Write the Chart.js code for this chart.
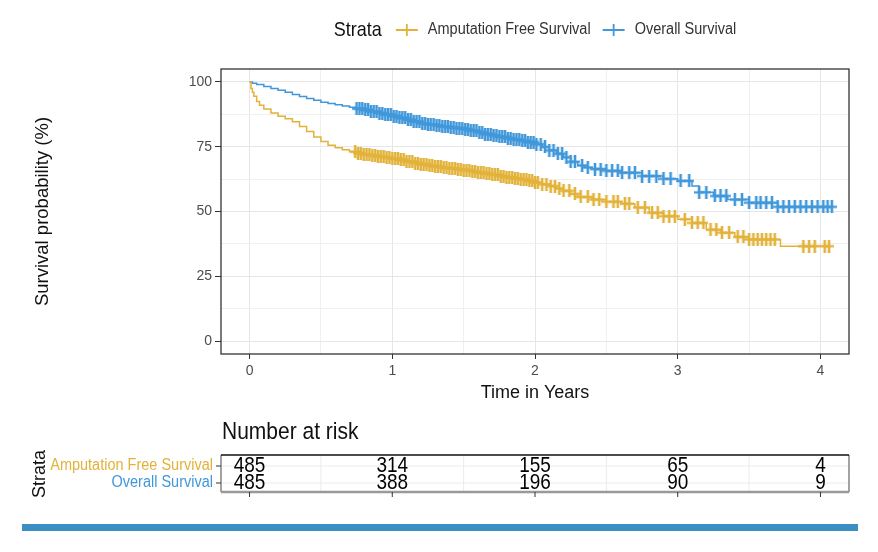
<!DOCTYPE html>
<html>
<head>
<meta charset="utf-8">
<script src="https://cdn.jsdelivr.net/npm/chart.js@4.4.1/dist/chart.umd.min.js"></script>
<style>
  body { margin: 0; background: #fff; }
  canvas { display: block; }
</style>
</head>
<body>
<canvas id="km" width="878" height="552"></canvas>
<script>
// Kaplan-Meier curves (time in years, survival in %)
const afsTime = [0, 0.01, 0.02, 0.03, 0.05, 0.07, 0.1, 0.15, 0.2, 0.25, 0.3, 0.35, 0.4, 0.45, 0.5, 0.55, 0.6, 0.65, 0.7, 0.75, 0.8, 0.85, 0.9, 0.95, 1.0, 1.05, 1.1, 1.15, 1.2, 1.25, 1.3, 1.35, 1.4, 1.45, 1.5, 1.55, 1.6, 1.65, 1.7, 1.75, 1.8, 1.85, 1.9, 1.95, 2.0, 2.05, 2.1, 2.15, 2.2, 2.25, 2.3, 2.4, 2.5, 2.6, 2.7, 2.8, 2.9, 3.0, 3.1, 3.2, 3.3, 3.4, 3.5, 3.72, 4.07];
const afsSurv = [100, 97.5, 96.0, 94.5, 92.5, 91.0, 89.6, 88.0, 86.8, 85.8, 84.6, 82.8, 80.9, 78.8, 77.0, 75.6, 74.6, 73.8, 73.1, 72.5, 72.0, 71.6, 71.2, 70.8, 70.4, 69.9, 69.3, 68.7, 68.2, 67.7, 67.3, 66.9, 66.6, 66.3, 66.0, 65.5, 65.0, 64.6, 64.2, 63.7, 63.2, 62.8, 62.4, 61.8, 61.2, 60.5, 59.8, 58.9, 58.0, 56.8, 55.6, 54.6, 53.8, 53.0, 51.5, 49.5, 48.2, 47.0, 45.6, 43.0, 41.8, 40.2, 39.2, 36.6, 36.6];
const osTime = [0, 0.02, 0.05, 0.1, 0.15, 0.2, 0.25, 0.3, 0.35, 0.4, 0.45, 0.5, 0.55, 0.6, 0.65, 0.7, 0.75, 0.8, 0.85, 0.9, 0.95, 1.0, 1.05, 1.1, 1.15, 1.2, 1.25, 1.3, 1.35, 1.4, 1.45, 1.5, 1.55, 1.6, 1.65, 1.7, 1.75, 1.8, 1.85, 1.9, 1.95, 2.0, 2.05, 2.1, 2.15, 2.2, 2.25, 2.3, 2.35, 2.4, 2.5, 2.6, 2.75, 2.9, 3.0, 3.1, 3.15, 3.25, 3.35, 3.5, 3.7, 4.08];
const osSurv = [100, 99.5, 99.0, 98.2, 97.5, 96.8, 96.0, 95.2, 94.4, 93.6, 92.9, 92.2, 91.7, 91.2, 90.7, 90.2, 89.7, 89.2, 88.6, 88.0, 87.4, 86.8, 86.1, 85.4, 84.7, 84.0, 83.6, 83.2, 82.8, 82.4, 82.2, 81.8, 81.2, 80.6, 79.9, 79.3, 78.8, 78.3, 77.8, 77.3, 76.8, 76.0, 74.9, 73.6, 72.3, 70.9, 69.2, 67.8, 67.0, 66.4, 65.7, 65.0, 63.7, 62.6, 61.8, 59.8, 57.4, 56.0, 54.6, 53.4, 51.8, 51.8];

// censoring times (the "+" marks)
const afsCensor = [0.74, 0.76, 0.78, 0.8, 0.82, 0.84, 0.86, 0.88, 0.9, 0.92, 0.94, 0.96, 0.98, 1.0, 1.02, 1.04, 1.06, 1.08, 1.1, 1.12, 1.14, 1.16, 1.18, 1.2, 1.22, 1.24, 1.26, 1.28, 1.3, 1.32, 1.34, 1.36, 1.38, 1.4, 1.42, 1.44, 1.46, 1.48, 1.5, 1.52, 1.54, 1.56, 1.58, 1.6, 1.62, 1.64, 1.66, 1.68, 1.7, 1.72, 1.74, 1.76, 1.78, 1.8, 1.82, 1.84, 1.86, 1.88, 1.9, 1.92, 1.94, 1.96, 1.98, 2.0, 2.02, 2.05, 2.08, 2.11, 2.14, 2.17, 2.2, 2.24, 2.28, 2.32, 2.37, 2.41, 2.45, 2.5, 2.55, 2.58, 2.63, 2.66, 2.72, 2.77, 2.82, 2.86, 2.9, 2.94, 2.98, 3.05, 3.1, 3.14, 3.18, 3.23, 3.27, 3.31, 3.36, 3.42, 3.46, 3.5, 3.53, 3.56, 3.59, 3.62, 3.65, 3.68, 3.88, 3.92, 3.96, 4.03, 4.06];
const osCensor = [0.75, 0.77, 0.79, 0.81, 0.83, 0.85, 0.87, 0.89, 0.91, 0.93, 0.95, 0.97, 0.99, 1.01, 1.03, 1.05, 1.07, 1.09, 1.11, 1.13, 1.15, 1.17, 1.19, 1.21, 1.23, 1.25, 1.27, 1.29, 1.31, 1.33, 1.35, 1.37, 1.39, 1.41, 1.43, 1.45, 1.47, 1.49, 1.51, 1.53, 1.55, 1.57, 1.59, 1.61, 1.63, 1.65, 1.67, 1.69, 1.71, 1.73, 1.75, 1.77, 1.79, 1.81, 1.83, 1.85, 1.87, 1.89, 1.91, 1.93, 1.95, 1.97, 1.99, 2.01, 2.04, 2.07, 2.1, 2.13, 2.16, 2.19, 2.22, 2.25, 2.28, 2.33, 2.37, 2.42, 2.46, 2.5, 2.54, 2.58, 2.61, 2.66, 2.7, 2.75, 2.8, 2.85, 2.9, 2.95, 3.02, 3.08, 3.15, 3.2, 3.26, 3.3, 3.34, 3.4, 3.45, 3.5, 3.55, 3.58, 3.62, 3.66, 3.7, 3.74, 3.78, 3.82, 3.86, 3.9, 3.94, 3.98, 4.02, 4.05, 4.08];

// number at risk table
const strataLabels = ['Amputation Free Survival', 'Overall Survival'];
const riskTimes = [0, 1, 2, 3, 4];
const riskAfs = [485, 314, 155, 65, 4];
const riskOs = [485, 388, 196, 90, 9];

const GOLD = '#e2b23a';
const BLUE = '#4097da';
const FONT = "'Liberation Sans', Arial, sans-serif";

// survival value at time t
function survAt(times, surv, t) {
    let s = surv[0];
    for (let i = 0; i < times.length; i++) {
        if (times[i] <= t) s = surv[i];
    }
    return s;
}

// "+" used for censor marks
function plusMark(color) {
    const c = document.createElement('canvas');
    c.width = 10; c.height = 13;
    const g = c.getContext('2d');
    g.strokeStyle = color;
    g.lineWidth = 2.6;
    g.beginPath();
    g.moveTo(5, 0); g.lineTo(5, 13);
    g.stroke();
    g.lineWidth = 2.2;
    g.beginPath();
    g.moveTo(0, 6.5); g.lineTo(10, 6.5);
    g.stroke();
    return c;
}

// text slightly stretched vertically, like the reference
function tallText(ctx, s, x, y, stretch) {
    ctx.save();
    ctx.translate(x, y);
    ctx.scale(1, stretch);
    ctx.fillText(s, 0, 0);
    ctx.restore();
}

const afsLine = afsTime.map((t, i) => ({ x: t, y: afsSurv[i] }));
const osLine = osTime.map((t, i) => ({ x: t, y: osSurv[i] }));
const afsMarks = afsCensor.map(t => ({ x: t, y: survAt(afsTime, afsSurv, t) }));
const osMarks = osCensor.map(t => ({ x: t, y: survAt(osTime, osSurv, t) }));

const extras = {
    id: 'extras',
    afterDraw(chart) {
        const { ctx, chartArea: a } = chart;
        const x = chart.scales.x;
        ctx.save();

        // panel border
        ctx.strokeStyle = '#333';
        ctx.lineWidth = 1.3;
        ctx.strokeRect(a.left, a.top, a.right - a.left, a.bottom - a.top);

        // legend across the top
        const colors = [GOLD, BLUE];
        ctx.textBaseline = 'middle';
        ctx.font = '18px ' + FONT;
        const titleW = ctx.measureText('Strata').width;
        ctx.font = '14.5px ' + FONT;
        const labW = strataLabels.map(s => ctx.measureText(s).width);
        const total = titleW + 14 + (22 + 10) * 2 + labW[0] + 12 + labW[1];
        let lx = (a.left + a.right) / 2 - total / 2;
        const ly = 30;
        ctx.fillStyle = '#111';
        ctx.font = '18px ' + FONT;
        ctx.textAlign = 'left';
        tallText(ctx, 'Strata', lx, ly, 1.12);
        lx += titleW + 14;
        ctx.font = '14.5px ' + FONT;
        strataLabels.forEach((s, i) => {
            ctx.strokeStyle = colors[i];
            ctx.lineWidth = 1.8;
            ctx.beginPath();
            ctx.moveTo(lx, ly); ctx.lineTo(lx + 22, ly);
            ctx.moveTo(lx + 11, ly - 6); ctx.lineTo(lx + 11, ly + 6);
            ctx.stroke();
            lx += 22 + 10;
            ctx.fillStyle = '#333';
            tallText(ctx, s, lx, ly, 1.12);
            lx += labW[i] + 12;
        });

        // number at risk table
        ctx.fillStyle = '#111';
        ctx.font = '21px ' + FONT;
        tallText(ctx, 'Number at risk', a.left + 1, 432, 1.15);

        const top = 455, bot = 492;
        const rows = [466, 483];
        ctx.strokeStyle = '#ebebeb';
        ctx.lineWidth = 1;
        [0.5, 1.5, 2.5, 3.5].forEach(v => {
            const px = x.getPixelForValue(v);
            ctx.beginPath(); ctx.moveTo(px, top); ctx.lineTo(px, bot); ctx.stroke();
        });
        rows.forEach(ry => {
            ctx.beginPath(); ctx.moveTo(a.left, ry); ctx.lineTo(a.right, ry); ctx.stroke();
        });
        ctx.strokeStyle = '#666';
        ctx.lineWidth = 1.2;
        ctx.beginPath();
        ctx.moveTo(a.left, top); ctx.lineTo(a.left, bot);
        ctx.moveTo(a.right, top); ctx.lineTo(a.right, bot);
        ctx.stroke();
        ctx.strokeStyle = '#111';
        ctx.lineWidth = 1.6;
        ctx.beginPath(); ctx.moveTo(a.left, top); ctx.lineTo(a.right, top); ctx.stroke();
        ctx.strokeStyle = '#999';
        ctx.lineWidth = 2.5;
        ctx.beginPath(); ctx.moveTo(a.left, bot); ctx.lineTo(a.right, bot); ctx.stroke();

        ctx.strokeStyle = '#333';
        ctx.lineWidth = 1;
        riskTimes.forEach(t => {
            const px = x.getPixelForValue(t);
            ctx.beginPath(); ctx.moveTo(px, bot); ctx.lineTo(px, bot + 5); ctx.stroke();
        });
        rows.forEach(ry => {
            ctx.beginPath(); ctx.moveTo(a.left - 5, ry); ctx.lineTo(a.left, ry); ctx.stroke();
        });

        ctx.font = '19px ' + FONT;
        ctx.textAlign = 'center';
        ctx.fillStyle = '#000';
        [riskAfs, riskOs].forEach((vals, r) => {
            vals.forEach((v, i) => tallText(ctx, String(v), x.getPixelForValue(riskTimes[i]), rows[r], 1.15));
        });

        ctx.font = '14.5px ' + FONT;
        ctx.textAlign = 'right';
        strataLabels.forEach((s, i) => {
            ctx.fillStyle = colors[i];
            tallText(ctx, s, a.left - 8, rows[i], 1.12);
        });

        ctx.save();
        ctx.translate(40, 474);
        ctx.rotate(-Math.PI / 2);
        ctx.textAlign = 'center';
        ctx.fillStyle = '#111';
        ctx.font = '18px ' + FONT;
        ctx.fillText('Strata', 0, 0);
        ctx.restore();

        // blue rule at the bottom
        ctx.fillStyle = '#3a8fc4';
        ctx.fillRect(22, 524, 836, 7);
        ctx.restore();
    }
};

new Chart(document.getElementById('km'), {
    type: 'scatter',
    data: {
        datasets: [
            { label: strataLabels[0], data: afsLine, showLine: true, stepped: true, borderColor: GOLD, borderWidth: 1.5, pointRadius: 0 },
            { label: strataLabels[1], data: osLine, showLine: true, stepped: true, borderColor: BLUE, borderWidth: 1.5, pointRadius: 0 },
            { label: 'afs censored', data: afsMarks, showLine: false, pointStyle: plusMark(GOLD) },
            { label: 'os censored', data: osMarks, showLine: false, pointStyle: plusMark(BLUE) }
        ]
    },
    options: {
        responsive: false,
        animation: false,
        layout: { padding: { top: 69, right: 29, left: 30, bottom: 148 } },
        plugins: { legend: { display: false }, tooltip: { enabled: false } },
        scales: {
            x: {
                type: 'linear', min: -0.2, max: 4.2,
                afterFit: s => { s.height = 50; },
                border: { display: false },
                grid: {
                    color: c => (c.tick && c.tick.value % 1 === 0) ? '#e6e6e6' : '#f0f0f0',
                    tickColor: c => (c.tick && c.tick.value % 1 === 0) ? '#333' : 'transparent',
                    tickLength: 5
                },
                ticks: {
                    stepSize: 0.5, includeBounds: false, autoSkip: false, maxRotation: 0,
                    padding: 4, color: '#4d4d4d', font: { family: FONT, size: 14 },
                    callback: v => (v % 1 === 0 ? String(v) : '')
                },
                title: { display: true, text: 'Time in Years', color: '#111', padding: 0, font: { family: FONT, size: 18 } }
            },
            y: {
                min: -5, max: 105,
                afterFit: s => { s.width = 191; },
                border: { display: false },
                grid: {
                    color: c => (c.tick && c.tick.value % 25 === 0) ? '#e6e6e6' : '#f0f0f0',
                    tickColor: c => (c.tick && c.tick.value % 25 === 0) ? '#333' : 'transparent',
                    tickLength: 6
                },
                ticks: {
                    stepSize: 12.5, includeBounds: false, autoSkip: false,
                    padding: 3, color: '#4d4d4d', font: { family: FONT, size: 14 },
                    callback: v => (v % 25 === 0 ? String(v) : '')
                },
                title: { display: true, text: 'Survival probability (%)', color: '#111', padding: 2, font: { family: FONT, size: 18.5 } }
            }
        }
    },
    plugins: [extras]
});
</script>
</body>
</html>
